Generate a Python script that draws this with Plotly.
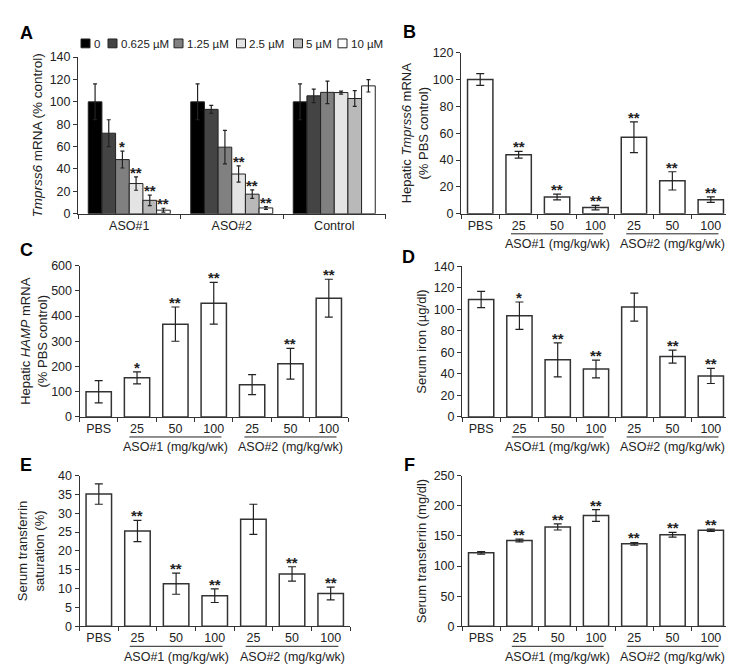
import plotly.graph_objects as go

W, H = 734, 669
FONT = "Liberation Sans, Arial, sans-serif"
INK = "#222222"

# ---------------- Panel A data ----------------
a_groups = ["ASO#1", "ASO#2", "Control"]
a_doses = ["0", "0.625 µM", "1.25 µM", "2.5 µM", "5 µM", "10 µM"]
a_colors = ["#000000", "#444444", "#808080", "#e4e4e4", "#b9b9b9", "#ffffff"]

a_val_0 = [100, 100, 100]
a_err_0 = [16, 16, 16]
a_val_0625 = [72, 93.3, 105.4]
a_err_0625 = [12, 3.6, 6]
a_val_125 = [48.4, 59.5, 108.5]
a_err_125 = [7.5, 15, 10]
a_val_25 = [27, 35.5, 108.3]
a_err_25 = [6, 7.3, 1.3]
a_val_5 = [12, 17.5, 103]
a_err_5 = [4.7, 3.8, 7]
a_val_10 = [3.2, 5.2, 114.3]
a_err_10 = [1.7, 1.2, 5.5]
a_sig_0 = ["", "", ""]
a_sig_0625 = ["", "", ""]
a_sig_125 = ["*", "", ""]
a_sig_25 = ["**", "**", ""]
a_sig_5 = ["**", "**", ""]
a_sig_10 = ["**", "**", ""]

# ---------------- Panels B-F data ----------------
dose_labels = ["PBS", "25", "50", "100", "25", "50", "100"]
group_labels = ["ASO#1 (mg/kg/wk)", "ASO#2 (mg/kg/wk)"]

b_val = [100, 44, 12.5, 4.6, 57, 24.5, 10.5]
b_err = [4.4, 2.5, 2.1, 1.7, 11.5, 6.8, 2.0]
b_sig = ["", "**", "**", "**", "**", "**", "**"]

c_val = [100, 155, 368, 451, 128, 211, 471]
c_err = [44, 24, 68, 83, 40, 61, 75]
c_sig = ["", "*", "**", "**", "", "**", "**"]

d_val = [109, 94, 53, 44.5, 102, 56, 38]
d_err = [7.5, 12.7, 15.8, 8.3, 13, 6, 7]
d_sig = ["", "*", "**", "**", "", "**", "**"]

e_val = [35.1, 25.3, 11.3, 8.1, 28.4, 13.9, 8.7]
e_err = [2.7, 2.8, 2.8, 1.8, 4.0, 1.9, 1.7]
e_sig = ["", "**", "**", "**", "", "**", "**"]

f_val = [122, 142.5, 165, 184, 137, 152, 159.5]
f_err = [2.0, 2.2, 5.0, 9.8, 2.2, 4.0, 2.0]
f_sig = ["", "**", "**", "**", "**", "**", "**"]

a_vals = [a_val_0, a_val_0625, a_val_125, a_val_25, a_val_5, a_val_10]
a_errs = [a_err_0, a_err_0625, a_err_125, a_err_25, a_err_5, a_err_10]
a_sigs = [a_sig_0, a_sig_0625, a_sig_125, a_sig_25, a_sig_5, a_sig_10]

TICK_BF = 12.5
TITLE_BF = 13
STAR = 15


def xdom(p0, p1):
    return [p0 / W, p1 / W]


def ydom(top, bottom):
    return [1 - bottom / H, 1 - top / H]


def ypx(py):
    return 1 - py / H


fig = go.Figure()
annotations = []
shapes = []

# ---------------- Panel A ----------------
A_GAP = 0.2
bw = (1 - A_GAP) / len(a_doses)
for j, (name, col, vals, errs, sigs) in enumerate(zip(a_doses, a_colors, a_vals, a_errs, a_sigs)):
    fig.add_trace(go.Bar(
        x=a_groups, y=vals, name=name,
        marker=dict(color=col, line=dict(color=INK, width=1)),
        error_y=dict(type="data", array=errs, color=INK, thickness=1.2, width=2),
        xaxis="x", yaxis="y", showlegend=False,
    ))
    off = -(1 - A_GAP) / 2 + bw * (j + 0.5)
    for i, s in enumerate(sigs):
        if s:
            annotations.append(dict(
                x=i + off, y=vals[i] + errs[i], xref="x", yref="y", text="<b>" + s + "</b>",
                showarrow=False, yanchor="bottom", yshift=-6,
                font=dict(family=FONT, size=STAR, color=INK)))

# legend for A (swatches + labels)
leg_left = [73, 100, 166, 228.5, 285.5, 330]
for j, (name, col) in enumerate(zip(a_doses, a_colors)):
    x0 = leg_left[j]
    shapes.append(dict(type="rect", xref="paper", yref="paper",
                       x0=x0 / W, x1=(x0 + 9) / W, y0=ypx(33.5), y1=ypx(24.5),
                       fillcolor=col, line=dict(color=INK, width=1)))
    annotations.append(dict(x=(x0 + 10.5) / W, y=ypx(29.5), xref="paper", yref="paper",
                            text=name, showarrow=False, xanchor="left", yanchor="middle",
                            font=dict(family=FONT, size=11.5, color=INK)))

# ---------------- Panels B-F ----------------
panels = [
    # axis id, values, errors, sig, left, right, top, bottom, ymax, dtick, title, standoff
    ("2", b_val, b_err, b_sig, 453, 722, 38.5, 203, 120, 20,
     "Hepatic <i>Tmprss6</i> mRNA<br>(% PBS control)", 1),
    ("3", c_val, c_err, c_sig, 71.5, 340, 256, 410.5, 600, 100,
     "Hepatic <i>HAMP</i> mRNA<br>(% PBS control)", 0),
    ("4", d_val, d_err, d_sig, 454, 722, 256.5, 410.5, 140, 20,
     "Serum iron (µg/dl)", 4),
    ("5", e_val, e_err, e_sig, 71.5, 342, 470.5, 624.3, 40, 5,
     "Serum transferrin<br>saturation (%)", 10),
    ("6", f_val, f_err, f_sig, 454, 722, 470.7, 624.3, 250, 50,
     "Serum transferrin (mg/dl)", 4),
]

layout_axes = {}
xs = list(range(len(dose_labels)))
for (aid, vals, errs, sigs, left, right, top, bottom, ymax, dtick, title, stand) in panels:
    fig.add_trace(go.Bar(
        x=xs, y=vals, width=0.66, offset=-0.33,
        marker=dict(color="#ffffff", line=dict(color="#333333", width=1.5)),
        error_y=dict(type="data", array=errs, color=INK, thickness=1.2, width=4),
        xaxis="x" + aid, yaxis="y" + aid, showlegend=False,
    ))
    for i, s in enumerate(sigs):
        if s:
            annotations.append(dict(
                x=i, y=vals[i] + errs[i], xref="x" + aid, yref="y" + aid,
                text="<b>" + s + "</b>",
                showarrow=False, yanchor="bottom", yshift=-6,
                font=dict(family=FONT, size=STAR, color=INK)))
    layout_axes["xaxis" + aid] = dict(
        domain=xdom(left, right), anchor="y" + aid, range=[-0.5, 6.5],
        tickmode="array", tickvals=xs, ticktext=dose_labels, ticks="",
        showline=True, linecolor="#333333", linewidth=1, showgrid=False, zeroline=False,
        tickfont=dict(family=FONT, size=TICK_BF, color=INK),
        minor=dict(tickmode="linear", tick0=0.5, dtick=1, ticks="outside", ticklen=4,
                   tickcolor="#333333", tickwidth=1, showgrid=False),
        fixedrange=True,
    )
    layout_axes["yaxis" + aid] = dict(
        domain=ydom(top, bottom), anchor="x" + aid, range=[0, ymax], dtick=dtick,
        showline=True, linecolor="#333333", linewidth=1, ticks="outside", ticklen=4,
        tickcolor="#333333", showgrid=False, zeroline=False,
        tickfont=dict(family=FONT, size=TICK_BF, color=INK),
        title=dict(text=title, font=dict(family=FONT, size=TITLE_BF, color=INK), standoff=stand),
    )
    # group underlines and labels
    line_y = ypx(bottom + 20.5)
    text_y = ypx(bottom + 31)
    for g, center in enumerate([2, 5]):
        shapes.append(dict(type="line", xref="x" + aid, yref="paper",
                           x0=center - 1.2, x1=center + 1.2, y0=line_y, y1=line_y,
                           line=dict(color=INK, width=1)))
        annotations.append(dict(x=center, y=text_y, xref="x" + aid, yref="paper",
                                text=group_labels[g], showarrow=False,
                                xanchor="center", yanchor="middle",
                                font=dict(family=FONT, size=TICK_BF, color=INK)))

# panel letters
for letter, cx, cy in [("A", 18, 18), ("B", 401, 17.5), ("C", 18, 240.5),
                       ("D", 400, 247), ("E", 18, 460), ("F", 401, 460)]:
    annotations.append(dict(x=cx / W, y=ypx(cy), xref="paper", yref="paper",
                            text="<b>" + letter + "</b>", showarrow=False,
                            xanchor="center", yanchor="middle",
                            font=dict(family=FONT, size=18, color="#000000")))

fig.update_layout(
    width=W, height=H, margin=dict(l=0, r=0, t=0, b=0),
    paper_bgcolor="white", plot_bgcolor="white",
    barmode="group", bargap=A_GAP, bargroupgap=0,
    showlegend=False,
    font=dict(family=FONT, color=INK),
    xaxis=dict(domain=xdom(70, 377.5), anchor="y", type="category",
               tickson="boundaries", ticks="outside", ticklen=4, tickcolor="#333333",
               showline=True, linecolor="#333333", linewidth=1, showgrid=False,
               tickfont=dict(family=FONT, size=12.5, color=INK)),
    yaxis=dict(domain=ydom(43, 203), anchor="x", range=[0, 140], dtick=20,
               showline=True, linecolor="#333333", linewidth=1, ticks="outside", ticklen=4,
               tickcolor="#333333", showgrid=False, zeroline=False,
               tickfont=dict(family=FONT, size=12.5, color=INK),
               title=dict(text="<i>Tmprss6</i> mRNA (% control)",
                          font=dict(family=FONT, size=13.5, color=INK), standoff=3)),
    annotations=annotations,
    shapes=shapes,
    **layout_axes,
)

fig.write_html("out.html")
